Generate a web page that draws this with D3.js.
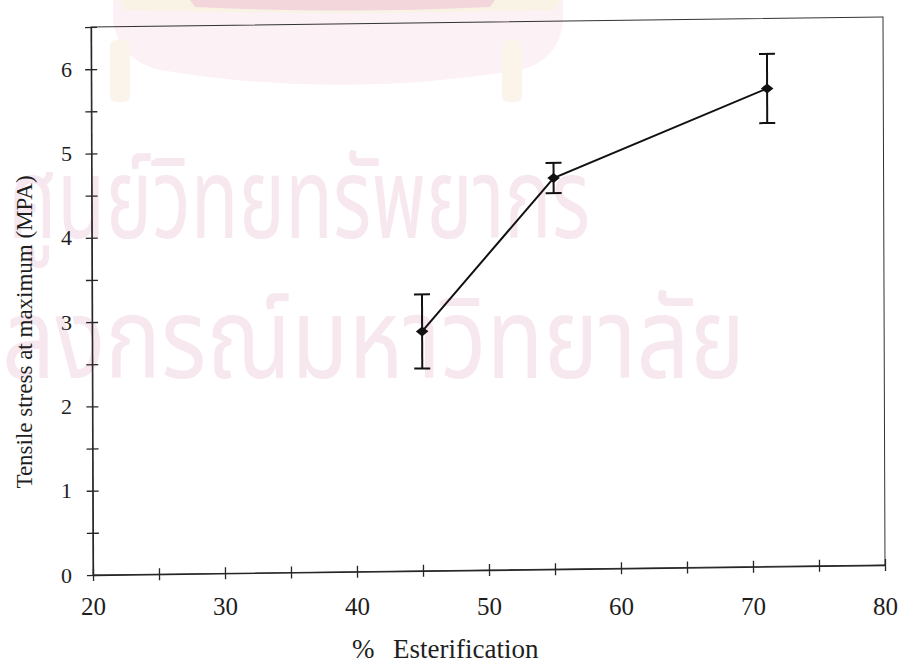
<!DOCTYPE html>
<html>
<head>
<meta charset="utf-8">
<script src="https://cdn.jsdelivr.net/npm/d3@7"></script>
<style>
  body { margin: 0; background: #fff; }
  text { font-family: "Liberation Serif", "Times New Roman", serif; fill: #1e1e1e; }
  .watermark { font-family: "Noto Sans Thai", "Noto Sans", "DejaVu Sans", sans-serif; fill: #f7e7ef; }
</style>
</head>
<body>
<div class="chart"></div>
<script>
// % esterification vs tensile stress at maximum
var esterification = [45, 55, 71.2];
var tensileStress = [2.84, 4.64, 5.67];
var stressError = [0.44, 0.18, 0.41];

var xTickLabels = [20, 30, 40, 50, 60, 70, 80];
var yTickLabels = [0, 1, 2, 3, 4, 5, 6];

var svgWidth = 902;
var svgHeight = 663;

// plot box size (before the slight skew of the scanned page)
var width = 792;
var height = 548;

var svg = d3.select(".chart")
  .append("svg")
  .attr("width", svgWidth)
  .attr("height", svgHeight);

// faint watermark behind the chart
var wm = svg.append("g");
wm.append("path")
  .attr("d", "M113,0 L563,0 L563,20 Q560,60 520,70 Q340,100 160,70 Q118,60 113,20 Z")
  .attr("fill", "#fcf1f5");
wm.append("path")
  .attr("d", "M120,0 L560,0 L555,10 Q340,16 125,10 Z")
  .attr("fill", "#f9f3e6");
wm.append("path")
  .attr("d", "M190,0 L495,0 L490,7 Q340,14 195,7 Z")
  .attr("fill", "#f3d6dc");
wm.append("rect").attr("x", 110).attr("y", 40).attr("width", 20).attr("height", 62).attr("rx", 6).attr("fill", "#faf4ea");
wm.append("rect").attr("x", 502).attr("y", 40).attr("width", 20).attr("height", 62).attr("rx", 6).attr("fill", "#faf4ea");
wm.append("text")
  .attr("class", "watermark")
  .attr("x", 8).attr("y", 238)
  .attr("textLength", 582)
  .attr("lengthAdjust", "spacingAndGlyphs")
  .style("font-size", "112px")
  .text("ศูนย์วิทยทรัพยากร");
wm.append("text")
  .attr("class", "watermark")
  .attr("x", 2).attr("y", 378)
  .attr("textLength", 743)
  .attr("lengthAdjust", "spacingAndGlyphs")
  .style("font-size", "112px")
  .text("ลงกรณ์มหาวิทยาลัย");

var xScale = d3.scaleLinear().domain([20, 80]).range([0, width]);
var yScale = d3.scaleLinear().domain([0, 6.5]).range([height, 0]);

// the scan is a little skewed, so the plot box is drawn through a matrix
var chartGroup = svg.append("g")
  .attr("transform", "matrix(1,-0.0126,0.00365,1,91,27)");

chartGroup.append("rect")
  .attr("width", width)
  .attr("height", height)
  .attr("fill", "none")
  .attr("stroke", "#333")
  .attr("stroke-width", 1);

var bottomAxis = d3.axisBottom(xScale)
  .tickValues(d3.range(20, 81, 5))
  .tickFormat("")
  .tickSizeInner(6)
  .tickSizeOuter(0);

var leftAxis = d3.axisLeft(yScale)
  .tickValues(d3.range(0, 6.51, 0.5))
  .tickFormat("")
  .tickSizeInner(6)
  .tickSizeOuter(0);

var xAxis = chartGroup.append("g")
  .attr("transform", `translate(0, ${height})`)
  .call(bottomAxis);
xAxis.selectAll(".tick line").attr("y1", -6);

var yAxis = chartGroup.append("g")
  .call(leftAxis);
yAxis.selectAll(".tick line").attr("x1", 6);

chartGroup.selectAll(".domain, .tick line")
  .attr("stroke", "#262626")
  .attr("stroke-width", 1.3);

// connecting line
var line = d3.line()
  .x((d, i) => xScale(esterification[i]))
  .y(d => yScale(d));

chartGroup.append("path")
  .datum(tensileStress)
  .attr("d", line)
  .attr("fill", "none")
  .attr("stroke", "#111")
  .attr("stroke-width", 2);

// error bars
var bars = chartGroup.selectAll("g.err")
  .data(tensileStress)
  .enter()
  .append("g")
  .attr("class", "err")
  .attr("stroke", "#111")
  .attr("stroke-width", 2);

bars.append("line")
  .attr("x1", (d, i) => xScale(esterification[i]))
  .attr("x2", (d, i) => xScale(esterification[i]))
  .attr("y1", (d, i) => yScale(d + stressError[i]))
  .attr("y2", (d, i) => yScale(d - stressError[i]));

bars.append("line")
  .attr("x1", (d, i) => xScale(esterification[i]) - 8)
  .attr("x2", (d, i) => xScale(esterification[i]) + 8)
  .attr("y1", (d, i) => yScale(d + stressError[i]))
  .attr("y2", (d, i) => yScale(d + stressError[i]));

bars.append("line")
  .attr("x1", (d, i) => xScale(esterification[i]) - 8)
  .attr("x2", (d, i) => xScale(esterification[i]) + 8)
  .attr("y1", (d, i) => yScale(d - stressError[i]))
  .attr("y2", (d, i) => yScale(d - stressError[i]));

// diamond markers
chartGroup.selectAll("path.mark")
  .data(tensileStress)
  .enter()
  .append("path")
  .attr("class", "mark")
  .attr("d", d3.symbol(d3.symbolDiamond2, 100))
  .attr("transform", (d, i) => `translate(${xScale(esterification[i])}, ${yScale(d)}) scale(1, 0.8)`)
  .attr("fill", "#111");

// tick labels sit straight on the page
var xLabels = svg.append("g")
  .attr("transform", "translate(93, 597)")
  .call(d3.axisBottom(xScale).tickValues(xTickLabels).tickFormat(d3.format("d")).tickSize(0).tickPadding(0));
xLabels.select(".domain").remove();
xLabels.selectAll("text")
  .style("font-family", "'Liberation Serif', serif")
  .style("font-size", "25px")
  .style("fill", "#1e1e1e");

var yLabels = svg.append("g")
  .attr("transform", "translate(72, 27)")
  .call(d3.axisLeft(yScale).tickValues(yTickLabels).tickFormat(d3.format("d")).tickSize(0).tickPadding(0));
yLabels.select(".domain").remove();
yLabels.selectAll("text")
  .style("font-family", "'Liberation Serif', serif")
  .style("font-size", "22px")
  .style("fill", "#1e1e1e");

// axis titles
svg.append("text")
  .attr("transform", "translate(32, 332) rotate(-90)")
  .attr("text-anchor", "middle")
  .style("font-size", "23px")
  .text("Tensile stress at maximum (MPA)");

var xTitle = svg.append("text")
  .attr("y", 658)
  .style("font-size", "27px");
xTitle.append("tspan").attr("x", 352).text("%");
xTitle.append("tspan").attr("x", 393).text("Esterification");
</script>
</body>
</html>
